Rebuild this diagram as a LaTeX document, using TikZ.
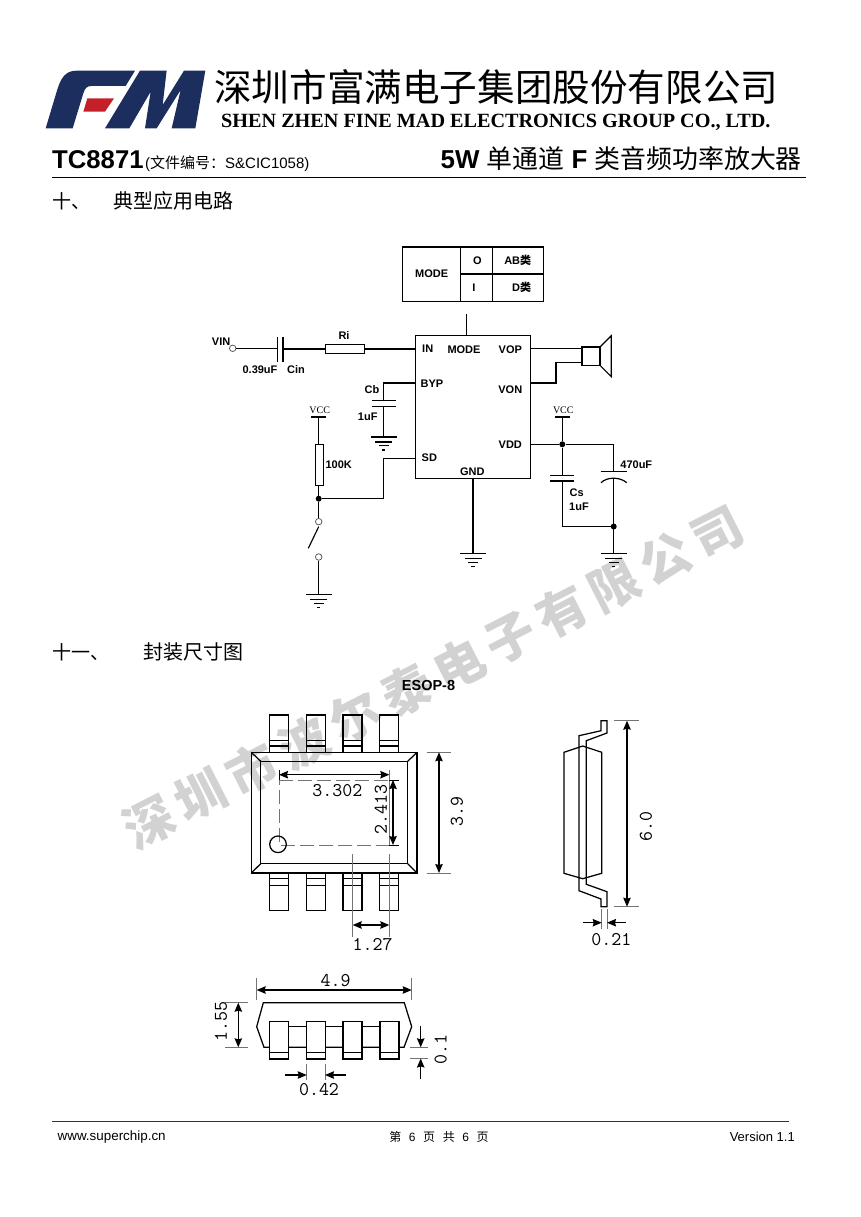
\documentclass[tikz,border=0pt]{standalone}
\usepackage{fontspec}
\setmainfont{Liberation Sans}
\newfontfamily\cjk{Noto Sans CJK SC}
\newfontfamily\serifen{Liberation Serif}
\usetikzlibrary{arrows.meta,positioning}
\definecolor{fmnavy}{HTML}{1B2E5E}
\definecolor{fmred}{HTML}{C4202A}
\definecolor{markgray}{HTML}{D2D2D2}
\newcommand{\fs}[1]{\fontsize{#1}{#1}\selectfont}

\tikzset{
  lbl/.style={font=\bfseries\fs{11}, inner sep=0pt},
  vcclbl/.style={font=\serifen\fs{10}, inner sep=0pt},
  dimlbl/.style={font=\ttfamily\fs{19.4}, inner sep=0pt},
  head/.style={font=\cjk\fs{19}, inner sep=0pt, anchor=west},
  wire/.style={line width=1.15pt},
  resbox/.style={draw, line width=1.15pt, fill=white, inner sep=0pt},
  hplate/.style={fill=black, inner sep=0pt, minimum width=#1, minimum height=1.3pt},
  hplate/.default=24pt,
  vplate/.style={fill=black, inner sep=0pt, minimum width=1.3pt, minimum height=25pt},
  hole/.style={circle, draw=black!70, line width=0.7pt, fill=white, inner sep=0pt, minimum size=6.5pt},
  joint/.style={circle, fill=black, inner sep=0pt, minimum size=6pt},
  pkg/.style={line width=1.25pt},
  ext/.style={black!55, line width=0.6pt},
  dimline/.style={line width=1.1pt, {Stealth[length=9pt,width=7.5pt,inset=1pt]}-{Stealth[length=9pt,width=7.5pt,inset=1pt]}},
  dimin/.style={line width=1.1pt, -{Stealth[length=9pt,width=7.5pt,inset=1pt]}},
  gndsym/.pic={
    \draw[line width=1.1pt] (-13,0) -- (13,0);
    \draw[line width=1.1pt] (-8.5,5) -- (8.5,5);
    \draw[line width=1.1pt] (-5,8.7) -- (5,8.7);
    \draw[line width=1.1pt] (-1.7,13) -- (1.7,13);
  },
  vccsym/.pic={
    \draw[line width=1.1pt] (-7.5,0) -- (7.5,0);
  }
}

\begin{document}
\begin{tikzpicture}[x=1pt,y=-1pt]
  \useasboundingbox (0,0) rectangle (860,1217);
  \fill[white] (0,0) rectangle (860,1217);

  % watermark
  \node[rotate=27, text=markgray, inner sep=0pt,
        font=\cjk\bfseries\fs{50}\addfontfeature{LetterSpace=16}] (mark) at (433,677) {深圳市波尔泰电子有限公司};

  % logo
  \begin{scope}[shift={(30,60)},x=0.3333pt,y=-0.3333pt]
    \fill[fmnavy] (47,205) -- (80,95) .. controls (92,55) and (105,32) .. (140,32) -- (315,32)
      -- (287,78) -- (185,78) .. controls (170,78) and (165,85) .. (160,100) -- (128,205) -- cycle;
    \fill[fmred] (172,115) -- (252,115) -- (225,155) -- (160,155) -- cycle;
    \fill[fmnavy] (225,205) -- (330,32) -- (410,32) -- (398,135) -- (462,32) -- (526,32)
      -- (496,205) -- (425,205) -- (452,90) -- (380,205) -- (345,205) -- (362,95) -- (298,205) -- cycle;
  \end{scope}

  % header
  \node[inner sep=0pt, anchor=west, font=\cjk\fs{37.6}] (title) at (214,87) {深圳市富满电子集团股份有限公司};
  \node[inner sep=0pt, anchor=west, font=\serifen\bfseries\fs{20.2}] (titleen) at (221,122.5) {SHEN ZHEN FINE MAD ELECTRONICS GROUP CO., LTD.};
  \node[inner sep=0pt, anchor=base west, font=\bfseries\fs{25.7}] (partno) at (52,169) {TC8871};
  \node[inner sep=0pt, anchor=base west, font=\fs{15}] (fileno) at (145,169) {({\cjk 文件编号：}S\&CIC1058)};
  \node[inner sep=0pt, anchor=base east, font=\fs{25.9}] (subtitle) at (802,169)
    {\textbf{5W} {\cjk 单通道} \textbf{F} {\cjk 类音频功率放大器}};
  \draw[line width=1.4pt] (52,177.5) -- (806,177.5);
  \node[head] (secten) at (52,201) {十、};
  \node[head, font=\cjk\fs{20}] (sectentxt) at (113,201) {典型应用电路};
  \node[head] (seceleven) at (52,652) {十一、};
  \node[head, font=\cjk\fs{20}] (secelevtxt) at (143,652) {封装尺寸图};

  % mode table
  \draw[line width=1.1pt] (402.7,247) rectangle (543.7,301.3);
  \draw[line width=1.1pt] (460.3,247) -- (460.3,301.3);
  \draw[line width=1.1pt] (492.3,247) -- (492.3,301.3);
  \draw[line width=1.1pt] (460.3,274) -- (543.7,274);
  \node[lbl] (tmode) at (431.7,274) {MODE};
  \node[lbl] (to) at (477.3,260.7) {O};
  \node[lbl] (ti) at (474,287.7) {I};
  \node[lbl] (tab) at (517.7,260.7) {AB{\cjk 类}};
  \node[lbl] (td) at (521.7,287.7) {D{\cjk 类}};

  % amplifier
  \node[draw, line width=1.15pt, inner sep=0pt, minimum width=115.7pt, minimum height=143.7pt] (chip) at (473,407) {};
  \node[lbl] (pin) at (427.7,349) {IN};
  \node[lbl] (pbyp) at (432,383.5) {BYP};
  \node[lbl] (psd) at (429.3,458) {SD};
  \node[lbl] (pmode) at (464,349.3) {MODE};
  \node[lbl] (pvop) at (510.3,349.3) {VOP};
  \node[lbl] (pvon) at (510.3,390) {VON};
  \node[lbl] (pvdd) at (510.3,445) {VDD};
  \node[lbl] (pgnd) at (472.3,472) {GND};
  \coordinate (modetop) at (466.7,314.3);
  \coordinate (modepin) at (466.7,335);
  \draw[wire] (modetop) -- (modepin);

  % input
  \node[hole] (vin) at (232.7,348.3) {};
  \node[lbl, anchor=east] (vinlbl) at (230.5,342) {VIN};
  \node[vplate] (cin1) at (277.7,349.3) {};
  \node[vplate] (cin2) at (283,349.3) {};
  \node[resbox, minimum width=38.6pt, minimum height=9pt] (ri) at (345,349) {};
  \coordinate (inpin) at (415,348.7);
  \node[lbl] (rilbl) at (344,336) {Ri};
  \node[lbl] (cinval) at (260,370) {0.39uF};
  \node[lbl] (cinlbl) at (296,370) {Cin};
  \draw[wire] (vin) -- (cin1 |- vin);
  \draw[wire] (cin2 |- ri) -- (ri);
  \draw[wire] (ri) -- (inpin |- ri);

  % bypass
  \coordinate (byppin) at (415,383);
  \coordinate (bypbend) at (383.7,383);
  \node[hplate] (cb1) at (383.7,400.7) {};
  \node[hplate] (cb2) at (383.7,406.3) {};
  \coordinate (gndb) at (383.7,437);
  \draw[wire] (byppin) -- (bypbend) -- (cb1);
  \draw[wire] (cb2) -- (gndb);
  \pic at (gndb) {gndsym};
  \node[lbl] (cblbl) at (372,390) {Cb};
  \node[lbl] (cbval) at (367.7,417) {1uF};

  % shutdown
  \coordinate (vccl) at (318.7,417);
  \pic at (vccl) {vccsym};
  \node[vcclbl] (vccltxt) at (319.7,410.7) {VCC};
  \node[resbox, minimum width=8pt, minimum height=41.4pt] (rsd) at (319.3,465) {};
  \node[joint] (jsd) at (318.7,498.7) {};
  \node[lbl] (rsdlbl) at (338.7,465) {100K};
  \coordinate (sdpin) at (415,458.3);
  \coordinate (sdbend) at (383.7,458.3);
  \coordinate (sdlow) at (383.7,498.7);
  \node[hole] (sw1) at (318.7,521.7) {};
  \node[hole] (sw2) at (318.7,557) {};
  \coordinate (blade1) at (318.7,526.7);
  \coordinate (blade2) at (308.3,548.3);
  \coordinate (gnds) at (318.7,594.7);
  \draw[wire] (vccl) -- (rsd.north -| vccl);
  \draw[wire] (rsd.south -| jsd) -- (jsd);
  \draw[wire] (sdpin) -- (sdbend) -- (sdlow) -- (jsd);
  \draw[wire] (jsd) -- (sw1);
  \draw[wire] (blade1) -- (blade2);
  \draw[wire] (sw2) -- (gnds);
  \pic at (gnds) {gndsym};

  % ground of the chip
  \coordinate (gndpin) at (473,478.7);
  \coordinate (gndc) at (473,553.7);
  \draw[wire] (gndpin) -- (gndc);
  \pic at (gndc) {gndsym};

  % speaker
  \node[draw, line width=1.15pt, inner sep=0pt, minimum width=18pt, minimum height=18.3pt] (spk) at (591,356.2) {};
  \coordinate (cone1) at (611.3,335.7);
  \coordinate (cone2) at (611.3,376.7);
  \draw[line width=1.15pt] (spk.north east) -- (cone1) -- (cone2) -- (spk.south east);
  \coordinate (voppin) at (531,348.7);
  \coordinate (vonpin) at (531,383);
  \coordinate (vonbend1) at (556,383);
  \coordinate (vonbend2) at (556,362.3);
  \draw[wire] (voppin) -- (voppin -| spk.west);
  \draw[wire] (vonpin) -- (vonbend1) -- (vonbend2) -- (vonbend2 -| spk.west);

  % supply
  \coordinate (vddpin) at (531,444.3);
  \node[joint] (jvdd) at (562.3,444.3) {};
  \coordinate (vddbend) at (613.7,444.3);
  \coordinate (vccr) at (562.3,417);
  \pic at (vccr) {vccsym};
  \node[vcclbl] (vccrtxt) at (563.3,410.7) {VCC};
  \node[hplate] (cs1) at (562.3,475.7) {};
  \node[hplate] (cs2) at (562.3,481) {};
  \coordinate (csbend) at (562.3,526.5);
  \node[joint] (jgnd) at (613.7,526.5) {};
  \node[hplate=25.7pt] (cp1) at (613.7,471.7) {};
  \coordinate (cp2) at (613.7,478);
  \coordinate (gndr) at (613.7,553.7);
  \draw[wire] (vddpin) -- (jvdd) -- (vddbend) -- (cp1);
  \draw[wire] (vccr) -- (jvdd);
  \draw[wire] (jvdd) -- (cs1);
  \draw[wire] (cs2) -- (csbend) -- (jgnd);
  \draw[wire] (cp2) -- (gndr);
  \draw[line width=1.2pt] (601,482.7) .. controls (607,476.7) and (620,476.7) .. (626.7,482.7);
  \pic at (gndr) {gndsym};
  \node[lbl] (cslbl) at (576.7,492.7) {Cs};
  \node[lbl] (csval) at (579,506.3) {1uF};
  \node[lbl] (cpval) at (636.3,465) {470uF};

  % package
  \node[font=\bfseries\fs{14.5}, inner sep=0pt] (pkgname) at (428.5,686) {ESOP-8};

  % top view
  \foreach \px in {269.3,306.2,343,379.7}{
    \draw[pkg] (\px,752.3) -- (\px,715) -- ++(19,0) -- ++(0,37.3);
    \draw[line width=0.7pt] (\px,740) -- ++(19,0);
    \draw[pkg] (\px,746) -- ++(19,0);
    \draw[pkg] (\px,873) -- (\px,910.3) -- ++(19,0) -- ++(0,-37.3);
    \draw[line width=0.7pt] (\px,885) -- ++(19,0);
    \draw[pkg] (\px,878.3) -- ++(19,0);
  }
  \draw[line width=1.5pt] (251.3,752.3) rectangle (417,873);
  \draw[pkg] (260.7,761.3) rectangle (407.7,863.7);
  \draw[pkg] (251.3,752.3) -- (260.7,761.3);
  \draw[pkg] (417,752.3) -- (407.7,761.3);
  \draw[pkg] (251.3,873) -- (260.7,863.7);
  \draw[pkg] (417,873) -- (407.7,863.7);
  \draw[ext, dash pattern=on 14pt off 5pt] (279,771) -- (279,845) -- (389.3,845);
  \draw[ext, dash pattern=on 14pt off 5pt] (279,780) -- (389.3,780);
  \draw[ext] (389.3,770) -- (389.3,845);
  \draw[pkg] (278,844.3) circle (8.3);
  \draw[dimline] (279,774.7) -- (389.3,774.7);
  \draw[line width=1pt] (279,770) -- (279,780);
  \draw[line width=1pt] (389.3,780) -- (399,780);
  \draw[line width=1pt] (389.3,845) -- (399,845);
  \draw[dimline] (393,780) -- (393,845);
  \node[dimlbl] (d3302) at (337.3,790.7) {3.302};
  \node[dimlbl, rotate=90] (d2413) at (381,809.3) {2.413};
  \draw[ext] (426.7,752.3) -- (450.7,752.3);
  \draw[ext] (426.7,873) -- (450.7,873);
  \draw[dimline] (439,752.3) -- (439,873);
  \node[dimlbl, rotate=90] (d39) at (457,811.7) {3.9};
  \draw[ext] (352.7,854) -- (352.7,936.7);
  \draw[ext] (389.3,854) -- (389.3,936.7);
  \draw[dimline] (352.7,925) -- (389.3,925);
  \node[dimlbl] (d127) at (372.7,945) {1.27};

  % side view
  \draw[pkg] (579,735.7) -- (601,730.7) -- (601,720.7) -- (607,720.7) -- (607,733) -- (586.3,740.7)
    -- (586.3,884.3) -- (607,891.7) -- (607,906.7) -- (601,906.7) -- (601,899) -- (579,890.7) -- cycle;
  \draw[pkg] (564,752.3) -- (582.7,746) -- (601.7,752.3) -- (601.7,873.3) -- (582.7,878.7) -- (564,873.3) -- cycle;
  \draw[ext] (614,720.7) -- (639.3,720.7);
  \draw[ext] (614,906.7) -- (639.3,906.7);
  \draw[dimline] (627,720.7) -- (627,906.7);
  \node[dimlbl, rotate=90] (d60) at (646,826.7) {6.0};
  \draw[ext] (601.7,909) -- (601.7,929);
  \draw[ext] (607,909) -- (607,929);
  \draw[dimin] (582.7,922.7) -- (601.7,922.7);
  \draw[dimin] (626,922.7) -- (607,922.7);
  \node[dimlbl] (d021) at (611.3,939.3) {0.21};

  % bottom view
  \draw[pkg] (263.3,1002.7) -- (404.3,1002.7) -- (411.7,1026.7) -- (404,1047.3) -- (264,1047.3) -- (256.7,1026.7) -- cycle;
  \draw[pkg] (270,1026.7) -- (398,1026.7);
  \foreach \px in {269.3,306.3,343,380}{
    \draw[pkg, fill=white] (\px,1021.3) rectangle ++(19,37.7);
    \draw[pkg] (\px,1052.7) -- ++(19,0);
  }
  \draw[ext] (256.7,978) -- (256.7,1000);
  \draw[ext] (411.7,978) -- (411.7,1000);
  \draw[dimline] (256.7,990) -- (411.7,990);
  \node[dimlbl] (d49) at (335.7,980.7) {4.9};
  \draw[ext] (225,1002.7) -- (248.3,1002.7);
  \draw[ext] (225,1047.3) -- (248.3,1047.3);
  \draw[dimline] (238.3,1002.7) -- (238.3,1047.3);
  \node[dimlbl, rotate=90] (d155) at (221,1021.3) {1.55};
  \draw[ext] (410,1047.3) -- (428,1047.3);
  \draw[ext] (410,1058.5) -- (428,1058.5);
  \draw[dimin] (420.7,1026) -- (420.7,1047.3);
  \draw[dimin] (420.7,1079.3) -- (420.7,1058.5);
  \node[dimlbl, rotate=90] (d01) at (440.7,1049.3) {0.1};
  \draw[ext] (306.7,1064.3) -- (306.7,1080);
  \draw[ext] (325,1064.3) -- (325,1080);
  \draw[dimin] (285.3,1075) -- (306.7,1075);
  \draw[dimin] (345.7,1075) -- (325,1075);
  \node[dimlbl] (d042) at (319,1090) {0.42};

  % footer
  \draw[line width=1pt, black!80] (52,1121) -- (789,1121);
  \node[inner sep=0pt, anchor=west, font=\fs{13.4}] (site) at (57.5,1137) {www.superchip.cn};
  \node[inner sep=0pt, font=\fs{12}] (pageno) at (439,1137) {{\cjk 第}\hspace{7.6pt}6\hspace{7.6pt}{\cjk 页}\hspace{7.6pt}{\cjk 共}\hspace{7.6pt}6\hspace{7.6pt}{\cjk 页}};
  \node[inner sep=0pt, anchor=east, font=\fs{13}] (ver) at (795,1137) {Version 1.1};
\end{tikzpicture}
\end{document}
